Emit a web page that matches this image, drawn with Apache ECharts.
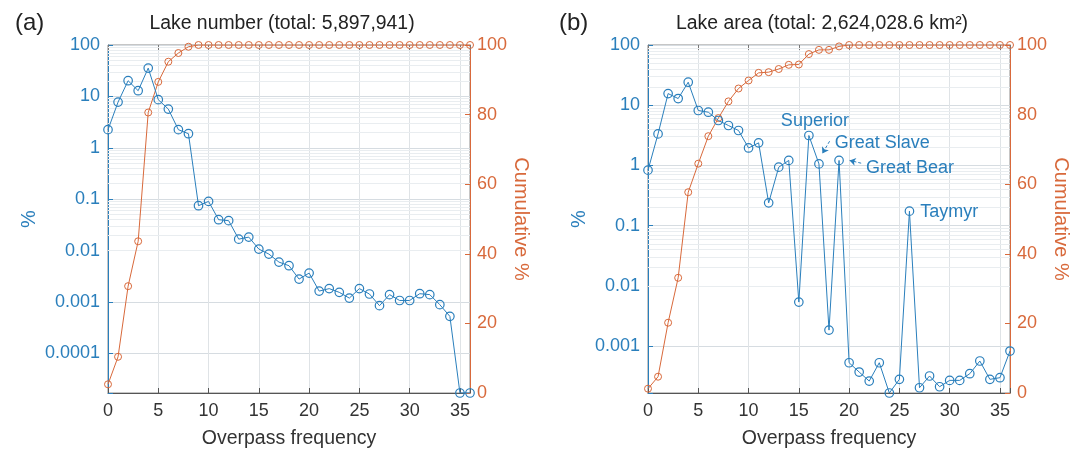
<!DOCTYPE html>
<html>
<head>
<meta charset="utf-8">
<script src="https://cdn.jsdelivr.net/npm/echarts@6/dist/echarts.min.js"></script>
<style>
  html, body { margin: 0; padding: 0; background: #fff; }
  #chart { width: 1088px; height: 450px; }
</style>
</head>
<body>
<div id="chart"></div>
<script>
// overpass frequency (x) shared by both panels
var overpass = [0, 1, 2, 3, 4, 5, 6, 7, 8, 9, 10, 11, 12, 13, 14, 15, 16, 17, 18,
    19, 20, 21, 22, 23, 24, 25, 26, 27, 28, 29, 30, 31, 32, 33, 34, 35, 36];

// (a) lake number, % per frequency (log) and cumulative %
var numberPct = [2.25, 7.74, 20.2, 12.9, 35.5, 8.63, 5.66, 2.25, 1.88, 0.0747, 0.0906,
    0.0399, 0.0382, 0.0167, 0.0183, 0.0107, 0.00855, 0.00597, 0.00508, 0.00279, 0.00365,
    0.00163, 0.00182, 0.00154, 0.00119, 0.00182, 0.00143, 0.000848, 0.00139, 0.00107,
    0.00107, 0.00145, 0.00139, 0.000886, 0.000525, 0.000016955, 0.000016955];
var numberCum = [2.5, 10.4, 30.7, 43.6, 80.6, 89.4, 95.2, 97.7, 99.5, 100, 100, 100, 100,
    100, 100, 100, 100, 100, 100, 100, 100, 100, 100, 100, 100, 100, 100, 100, 100, 100,
    100, 100, 100, 100, 100, 100, 100];

// (b) lake area
var areaPct = [0.834, 3.34, 15.6, 12.9, 24.1, 8.17, 7.65, 5.57, 4.6, 3.8, 1.95, 2.37,
    0.239, 0.935, 1.21, 0.00537, 3.14, 1.06, 0.00184, 1.21, 0.000528, 0.00037, 0.000262,
    0.000528, 0.000166, 0.00028, 0.174, 0.000203, 0.000318, 0.000211, 0.000269, 0.000269,
    0.000347, 0.000564, 0.00028, 0.000298, 0.000826];
var areaCum = [1.24, 4.68, 20.2, 33.1, 57.7, 65.9, 73.8, 79.0, 83.8, 87.5, 89.8, 92.0,
    92.2, 93.1, 94.3, 94.4, 97.4, 98.6, 98.6, 99.6, 100, 100, 100, 100, 100, 100, 100, 100,
    100, 100, 100, 100, 100, 100, 100, 100, 100];

var lakeNames = ['Superior', 'Great Slave', 'Great Bear', 'Taymyr'];
var lakeFreq = [16, 17, 19, 26];

var titles = ['Lake number (total: 5,897,941)', 'Lake area (total: 2,624,028.6 km\u00b2)'];
var panelTags = ['(a)', '(b)'];
var pctMin = [0.000016955, 0.000166];

var BLUE = '#2a7fbc';
var ORANGE = '#d8693b';
var FONT = '"Liberation Sans", Arial, sans-serif';

// label placement for the lake notes (pixels) and arrow ends (x offset, y factor)
var notePlace = {
    'Superior': { position: 'top', offset: [6, 4] },
    'Great Slave': { position: 'right', offset: [6, -21], arrow: [1.06, 2.38, 0.34, 1.49] },
    'Great Bear': { position: 'right', offset: [17, 8], arrow: [2.2, 0.9, 1.05, 1.0] },
    'Taymyr': { position: 'right', offset: [1, 1] }
};

var chart = echarts.init(document.getElementById('chart'));

function minorValues(min) {
    var out = [];
    for (var d = -6; d <= 1; d++) {
        for (var k = 2; k <= 9; k++) {
            var v = k * Math.pow(10, d);
            if (v > min && v < 100) out.push({ yAxis: v });
        }
    }
    return out;
}

function isDecade(v) {
    var l = Math.log(v) / Math.LN10;
    return Math.abs(l - Math.round(l)) < 1e-6;
}

var grids = [
    { left: 108, top: 45, width: 362, height: 348 },
    { left: 648, top: 45, width: 362, height: 348 }
];

var option = {
    animation: false,
    textStyle: { fontFamily: FONT },
    title: [],
    grid: [],
    xAxis: [],
    yAxis: [],
    series: []
};

[0, 1].forEach(function (p) {
    var g = grids[p];
    option.grid.push({
        left: g.left, top: g.top, width: g.width, height: g.height,
        show: true, borderColor: '#8c8c8c', borderWidth: 1,
        outerBoundsMode: 'none'
    });
    option.title.push({
        text: titles[p], left: g.left + g.width / 2 - 12, top: 9, textAlign: 'center',
        textStyle: { fontFamily: FONT, fontSize: 19.4, fontWeight: 'normal', color: '#222' }
    });
    option.title.push({
        text: panelTags[p], left: p === 0 ? 10 : 554, top: 6,
        textStyle: { fontFamily: FONT, fontSize: 24, fontWeight: 'normal', color: '#222' }
    });

    option.xAxis.push({
        type: 'value', gridIndex: p, min: 0, max: 36, interval: 5,
        name: 'Overpass frequency', nameLocation: 'middle', nameGap: 36,
        nameTextStyle: { fontSize: 19.5, color: '#333', fontFamily: FONT },
        axisLine: { onZero: false, lineStyle: { color: '#555', width: 1 } },
        axisTick: { inside: true, length: 5, lineStyle: { color: '#555' } },
        axisLabel: {
            fontSize: 18, color: '#333', margin: 9, fontFamily: FONT,
            formatter: function (v) { return v % 5 === 0 ? String(v) : ''; }
        },
        splitLine: { show: true, lineStyle: { color: '#dfe3e6', width: 1 } }
    });
    option.xAxis.push({
        type: 'value', gridIndex: p, position: 'top', min: 0, max: 36, interval: 5,
        axisLine: { show: false, onZero: false },
        axisTick: { inside: true, length: 5, lineStyle: { color: '#777' } },
        axisLabel: { show: false },
        splitLine: { show: false }
    });

    option.yAxis.push({
        type: 'log', logBase: 10, gridIndex: p, min: pctMin[p], max: 100,
        name: '%', nameLocation: 'middle', nameGap: p === 0 ? 69 : 59,
        nameTextStyle: { fontSize: 20, color: BLUE, fontFamily: FONT },
        axisLine: { show: true, onZero: false, lineStyle: { color: BLUE, width: 1 } },
        axisTick: { inside: true, length: 5, lineStyle: { color: BLUE } },
        axisLabel: {
            fontSize: 18, color: BLUE, margin: 8, fontFamily: FONT,
            formatter: function (v) { return isDecade(v) ? String(+v.toPrecision(3)) : ''; }
        },
        splitLine: { show: true, lineStyle: { color: '#d6dce1', width: 1 } }
    });
    option.yAxis.push({
        type: 'value', gridIndex: p, position: 'right', min: 0, max: 100, interval: 20,
        name: 'Cumulative %', nameLocation: 'middle', nameGap: 41, nameRotate: -90,
        nameTextStyle: { fontSize: 20, color: ORANGE, fontFamily: FONT },
        axisLine: { show: true, onZero: false, lineStyle: { color: ORANGE, width: 1 } },
        axisTick: { inside: true, length: 5, lineStyle: { color: ORANGE } },
        axisLabel: { fontSize: 18, color: ORANGE, margin: 7, fontFamily: FONT },
        splitLine: { show: false }
    });
});

function pairs(ys) {
    return overpass.map(function (x, i) { return [x, ys[i]]; });
}

// minor log grid lines, kept under the data
[0, 1].forEach(function (p) {
    option.series.push({
        type: 'line', xAxisIndex: p * 2, yAxisIndex: p * 2, data: [], z: 1, silent: true,
        markLine: {
            z: 1, silent: true, symbol: 'none', label: { show: false },
            lineStyle: { color: '#e9edf0', width: 1, type: 'solid' },
            data: minorValues(pctMin[p])
        }
    });
});

var cumSets = [numberCum, areaCum];
var pctSets = [numberPct, areaPct];

[0, 1].forEach(function (p) {
    option.series.push({
        type: 'line', xAxisIndex: p * 2, yAxisIndex: p * 2 + 1, data: pairs(cumSets[p]),
        symbol: 'circle', symbolSize: 7, z: 3,
        lineStyle: { color: ORANGE, width: 1 },
        itemStyle: { color: 'rgba(0,0,0,0)', borderColor: ORANGE, borderWidth: 1 }
    });
    var data = pairs(pctSets[p]);
    var arrows = [];
    if (p === 1) {
        lakeNames.forEach(function (name, k) {
            var idx = overpass.indexOf(lakeFreq[k]);
            var place = notePlace[name];
            data[idx] = {
                value: data[idx],
                label: {
                    show: true, formatter: name, position: place.position, offset: place.offset,
                    fontSize: 18, color: BLUE, fontFamily: FONT
                }
            };
            if (place.arrow) {
                var y = areaPct[idx];
                arrows.push([
                    { coord: [lakeFreq[k] + place.arrow[0], y * place.arrow[1]] },
                    { coord: [lakeFreq[k] + place.arrow[2], y * place.arrow[3]] }
                ]);
            }
        });
    }
    option.series.push({
        type: 'line', xAxisIndex: p * 2, yAxisIndex: p * 2, data: data,
        symbol: 'circle', symbolSize: 8.5, z: 4,
        lineStyle: { color: BLUE, width: 1 },
        itemStyle: { color: 'rgba(0,0,0,0)', borderColor: BLUE, borderWidth: 1.2 },
        markLine: arrows.length ? {
            silent: true, symbol: ['none', 'arrow'], symbolSize: 6,
            label: { show: false },
            lineStyle: { color: BLUE, width: 1, type: [3, 2] },
            data: arrows
        } : undefined
    });
});

chart.setOption(option);
</script>
</body>
</html>
